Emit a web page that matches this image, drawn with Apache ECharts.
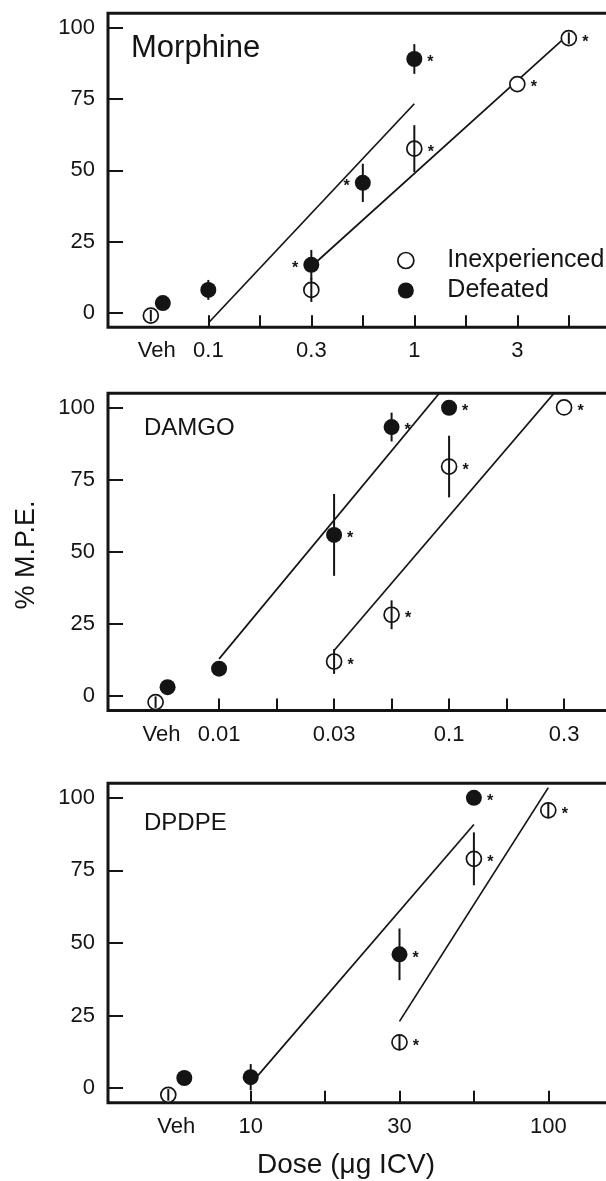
<!DOCTYPE html>
<html>
<head>
<meta charset="utf-8">
<script src="https://cdn.jsdelivr.net/npm/echarts@6/dist/echarts.min.js"></script>
<style>
  html, body { margin: 0; padding: 0; background: #fff; }
  #chart { width: 606px; height: 1181px; }
</style>
</head>
<body>
<div id="chart"></div>
<script>
// Antinociception (% M.P.E.) after ICV morphine, DAMGO and DPDPE
// in socially inexperienced vs. defeated animals.

const panelNames = ['Morphine', 'DAMGO', 'DPDPE'];
const groupNames = ['Inexperienced', 'Defeated'];

// ---- Morphine ----
const morphineTickDoses = [0.1, 0.18, 0.3, 0.56, 1, 1.8, 3, 5.6];
const morphineTickLabels = ['Veh', '0.1', '0.3', '1', '3'];
const morphineInexpDoses = ['Veh', 0.3, 1, 3, 5.6];
const morphineInexpMean = [-0.9, 8.1, 57.6, 80.2, 96.3];
const morphineInexpSem = [2, 4.2, 8.2, 0, 2];
const morphineInexpSig = ['', '', 'right', 'right', 'right'];
const morphineDefDoses = ['Veh', 0.1, 0.3, 0.56, 1];
const morphineDefMean = [3.5, 8.1, 16.9, 45.6, 89.0];
const morphineDefSem = [2, 3.5, 5.2, 6.7, 5.2];
const morphineDefSig = ['', '', 'left', 'left', 'right'];
const morphineInexpFit = [[0.3, 16.3], [5.6, 97.7]];
const morphineDefFit = [[0.1, -3.5], [1, 73.3]];

// ---- DAMGO ----
const damgoTickDoses = [0.01, 0.018, 0.03, 0.056, 0.1, 0.18, 0.3];
const damgoTickLabels = ['Veh', '0.01', '0.03', '0.1', '0.3'];
const damgoInexpDoses = ['Veh', 0.03, 0.056, 0.1, 0.3];
const damgoInexpMean = [-2.1, 12.0, 28.2, 79.6, 100.1];
const damgoInexpSem = [2, 4.3, 5, 10.7, 0];
const damgoInexpSig = ['', 'right', 'right', 'right', 'right'];
const damgoDefDoses = ['Veh', 0.01, 0.03, 0.056, 0.1];
const damgoDefMean = [3.1, 9.5, 55.9, 93.3, 100];
const damgoDefSem = [1.5, 1.5, 14.2, 5, 0];
const damgoDefSig = ['', '', 'right', 'right', 'right'];
const damgoInexpFit = [[0.03, 15.8], [0.3, 109.1]];
const damgoDefFit = [[0.01, 12.9], [0.1, 109.1]];

// ---- DPDPE ----
const dpdpeTickDoses = [10, 18, 30, 56, 100];
const dpdpeTickLabels = ['Veh', '10', '30', '100'];
const dpdpeInexpDoses = ['Veh', 30, 56, 100];
const dpdpeInexpMean = [-2.3, 15.8, 79, 95.7];
const dpdpeInexpSem = [2, 2.5, 9.1, 2.5];
const dpdpeInexpSig = ['', 'right', 'right', 'right'];
const dpdpeDefDoses = ['Veh', 10, 30, 56];
const dpdpeDefMean = [3.5, 3.8, 46.1, 100];
const dpdpeDefSem = [1.5, 4.5, 8.9, 0];
const dpdpeDefSig = ['', '', 'right', 'right'];
const dpdpeInexpFit = [[30, 23], [100, 103.5]];
const dpdpeDefFit = [[10, 1.5], [56, 90.8]];

const yTicks = [0, 25, 50, 75, 100];

// Doses are spaced on a quarter-decade grid (0.3 ~ 10^-0.5, 0.56 ~ 10^-0.25)
function pos(dose) {
  return Math.round(Math.log10(dose) * 4) / 4;
}

const panelData = [
  { tickDoses: morphineTickDoses, tickLabels: morphineTickLabels,
    groups: [
      { doses: morphineInexpDoses, mean: morphineInexpMean, sem: morphineInexpSem, sig: morphineInexpSig, fit: morphineInexpFit },
      { doses: morphineDefDoses, mean: morphineDefMean, sem: morphineDefSem, sig: morphineDefSig, fit: morphineDefFit }
    ] },
  { tickDoses: damgoTickDoses, tickLabels: damgoTickLabels,
    groups: [
      { doses: damgoInexpDoses, mean: damgoInexpMean, sem: damgoInexpSem, sig: damgoInexpSig, fit: damgoInexpFit },
      { doses: damgoDefDoses, mean: damgoDefMean, sem: damgoDefSem, sig: damgoDefSig, fit: damgoDefFit }
    ] },
  { tickDoses: dpdpeTickDoses, tickLabels: dpdpeTickLabels,
    groups: [
      { doses: dpdpeInexpDoses, mean: dpdpeInexpMean, sem: dpdpeInexpSem, sig: dpdpeInexpSig, fit: dpdpeInexpFit },
      { doses: dpdpeDefDoses, mean: dpdpeDefMean, sem: dpdpeDefSem, sig: dpdpeDefSig, fit: dpdpeDefFit }
    ] }
];

// Layout of the three stacked plots (pixels) and their visible log-dose window
const layout = [
  { top: 13.3, height: 314, xmin: -1.487, pxPerLog: 206, jitter: 6, titleX: 131, titleY: 48.3, titleSize: 31 },
  { top: 393.3, height: 317.2, xmin: -2.483, pxPerLog: 230, jitter: 6, titleX: 144, titleY: 428.7, titleSize: 24 },
  { top: 783.3, height: 319.4, xmin: 0.5205, pxPerLog: 297.6, jitter: 8, titleX: 144, titleY: 823.3, titleSize: 24 }
];
const GRID_LEFT = 108;
const GRID_WIDTH = 520;
const INK = '#141414';
const FONT = "'Liberation Sans', Arial, Helvetica, sans-serif";

const grids = [], xAxes = [], yAxes = [], series = [], graphics = [];

panelData.forEach((pd, p) => {
  const L = layout[p];
  const firstPos = pos(pd.tickDoses[0]);
  const vehPos = firstPos - 0.25;
  const labelPos = [vehPos].concat(pd.tickLabels.slice(1).map(t => pos(parseFloat(t))));
  const tickPos = pd.tickDoses.map(pos);

  grids.push({
    left: GRID_LEFT, top: L.top, width: GRID_WIDTH, height: L.height,
    show: true, borderWidth: 3, borderColor: INK, backgroundColor: 'transparent',
    containLabel: false, outerBoundsMode: 'none'
  });

  xAxes.push({
    type: 'value', gridIndex: p, position: 'bottom',
    min: L.xmin, max: L.xmin + GRID_WIDTH / L.pxPerLog,
    axisLine: { show: false, onZero: false },
    splitLine: { show: false },
    axisTick: { show: true, inside: true, length: 12, customValues: tickPos,
                lineStyle: { color: INK, width: 2 } },
    axisLabel: {
      show: true, customValues: labelPos, margin: 13,
      fontFamily: FONT, fontSize: 22, color: INK,
      formatter: v => {
        const i = labelPos.findIndex(q => Math.abs(q - v) < 1e-6);
        return i >= 0 ? pd.tickLabels[i] : '';
      }
    }
  });

  yAxes.push({
    type: 'value', gridIndex: p, position: 'left', min: -5, max: 105,
    axisLine: { show: false, onZero: false },
    splitLine: { show: false },
    axisTick: { show: true, inside: true, length: 15, customValues: yTicks,
                lineStyle: { color: INK, width: 2 } },
    axisLabel: { show: true, customValues: yTicks, margin: 13,
                 fontFamily: FONT, fontSize: 22, color: INK }
  });

  pd.groups.forEach((g, gi) => {
    const open = gi === 0;
    const xOf = d => (d === 'Veh' ? vehPos : pos(d));
    const jit = open ? -L.jitter : L.jitter;

    // fitted regression line
    series.push({
      type: 'line', xAxisIndex: p, yAxisIndex: p, z: 2, silent: true,
      showSymbol: false, symbol: 'none', clip: true,
      data: g.fit.map(([d, y]) => [pos(d), y]),
      lineStyle: { color: INK, width: 1.7 }
    });

    // group means
    series.push({
      name: groupNames[gi],
      type: 'scatter', xAxisIndex: p, yAxisIndex: p, z: 3,
      symbol: 'circle', symbolSize: open ? 15 : 16,
      itemStyle: open
        ? { color: '#fff', borderColor: INK, borderWidth: 1.7, opacity: 1 }
        : { color: INK, borderWidth: 0, opacity: 1 },
      data: g.doses.map((d, i) => {
        const item = { value: [xOf(d), g.mean[i]] };
        if (d === 'Veh') item.symbolOffset = [jit, 0];
        if (g.sig[i]) {
          item.label = {
            show: true, position: g.sig[i], distance: 5, offset: [0, 4],
            formatter: '*', fontFamily: FONT, fontSize: 16, fontWeight: 'bold', color: INK
          };
        }
        return item;
      })
    });

    // SEM bars
    series.push({
      type: 'custom', xAxisIndex: p, yAxisIndex: p, z: 4, silent: true,
      data: g.doses.map((d, i) => [xOf(d), g.mean[i] - g.sem[i], g.mean[i] + g.sem[i], d === 'Veh' ? 1 : 0]),
      renderItem: (params, api) => {
        const lo = api.coord([api.value(0), api.value(1)]);
        const hi = api.coord([api.value(0), api.value(2)]);
        const dx = api.value(3) ? jit : 0;
        return {
          type: 'line',
          shape: { x1: lo[0] + dx, y1: lo[1], x2: hi[0] + dx, y2: hi[1] },
          style: { stroke: INK, lineWidth: 2 }
        };
      }
    });
  });

  graphics.push({
    type: 'text', x: L.titleX, y: L.titleY, z: 10,
    style: { text: panelNames[p], font: `${L.titleSize}px ${FONT}`, fill: INK,
             textAlign: 'left', textVerticalAlign: 'middle' }
  });
});

graphics.push({
  type: 'text', x: 27, y: 555, rotation: Math.PI / 2, z: 10,
  style: { text: '% M.P.E.', font: `27px ${FONT}`, fill: INK,
           textAlign: 'center', textVerticalAlign: 'middle' }
});
graphics.push({
  type: 'text', x: 346, y: 1165, z: 10,
  style: { text: 'Dose (\u03BCg ICV)', font: `28px ${FONT}`, fill: INK,
           textAlign: 'center', textVerticalAlign: 'middle' }
});

const chart = echarts.init(document.getElementById('chart'), null, { renderer: 'canvas' });
chart.setOption({
  backgroundColor: '#fff',
  animation: false,
  grid: grids,
  xAxis: xAxes,
  yAxis: yAxes,
  legend: {
    show: true, orient: 'vertical', left: 392, top: 243,
    itemWidth: 73, itemHeight: 16, itemGap: 5, selectedMode: false,
    symbolKeepAspect: true,
    textStyle: { fontFamily: FONT, fontSize: 25, lineHeight: 25, color: INK },
    data: [
      { name: groupNames[0], icon: 'circle',
        itemStyle: { color: '#fff', borderColor: INK, borderWidth: 1.7 } },
      { name: groupNames[1], icon: 'circle',
        itemStyle: { color: INK, borderWidth: 0 } }
    ]
  },
  graphic: graphics,
  series: series
});
</script>
</body>
</html>
